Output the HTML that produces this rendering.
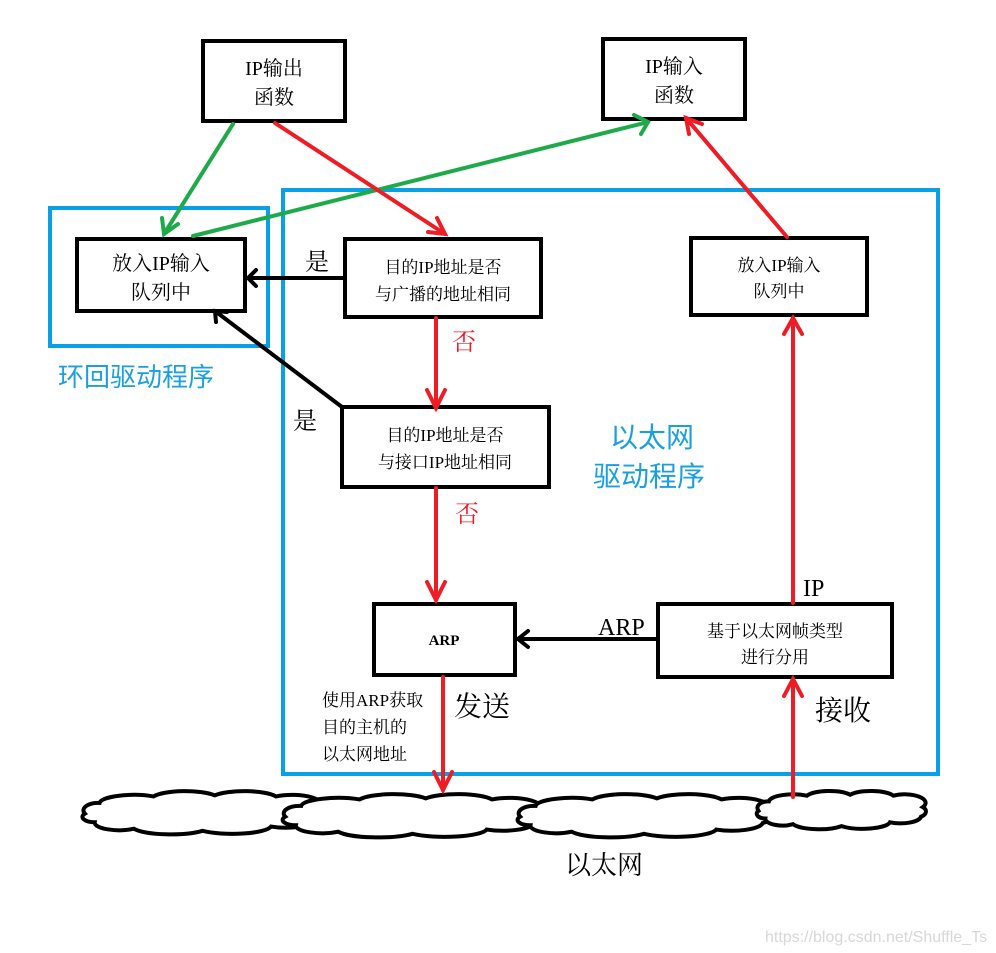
<!DOCTYPE html>
<html><head><meta charset="utf-8"><style>
html,body{margin:0;padding:0;background:#fff;}
svg{display:block;}
.s{font-family:"Liberation Serif","Noto Serif CJK SC",serif;fill:#000;}
.b{font-family:"Liberation Sans","Noto Sans CJK SC",sans-serif;fill:#1aa0e0;}
</style></head><body>
<svg width="996" height="953" viewBox="0 0 996 953" xmlns="http://www.w3.org/2000/svg">
<defs>
<symbol id="cl" viewBox="0 0 100 40" preserveAspectRatio="none" overflow="visible">
<path d="M2,22 A6,7 0 0 1 8,12 A14,8 0 0 1 30,6 A14,8 0 0 1 55,5 A14,8 0 0 1 80,6 A12,9 0 0 1 97,18 A5,6 0 0 1 96,28 A12,8 0 0 1 78,34 A16,8 0 0 1 50,38 A16,8 0 0 1 22,36 A10,7 0 0 1 6,30 A5,5 0 0 1 2,22 Z" fill="#fff" stroke="#000" stroke-width="4" vector-effect="non-scaling-stroke"/>
</symbol>
</defs>

<!-- blue frames -->
<rect x="50" y="208" width="218" height="138" fill="none" stroke="#0aa0e6" stroke-width="4"/>
<rect x="283" y="190" width="655" height="584" fill="none" stroke="#0aa0e6" stroke-width="4"/>

<!-- boxes -->
<g fill="#fff" stroke="#000" stroke-width="4">
<rect x="203" y="41" width="142" height="80"/>
<rect x="603" y="39" width="142" height="80"/>
<rect x="77" y="239" width="168" height="72"/>
<rect x="345" y="239" width="196" height="78"/>
<rect x="342" y="407" width="207" height="80"/>
<rect x="374" y="604" width="141" height="71"/>
<rect x="658" y="604" width="234" height="73"/>
<rect x="691" y="238" width="176" height="77"/>
</g>

<!-- clouds -->
<use href="#cl" x="80" y="790" width="245" height="43"/>
<use href="#cl" x="280" y="793" width="265" height="43"/>
<use href="#cl" x="515" y="793" width="258" height="43"/>
<use href="#cl" x="755" y="790" width="173" height="38"/>

<!-- green -->
<g stroke="#1faa4a" stroke-width="4" fill="none" stroke-linecap="round">
<line x1="233" y1="124" x2="164" y2="234"/>
<polyline points="162,218 164,234 178,224"/>
<line x1="193" y1="236" x2="648" y2="122"/>
<polyline points="634,115 648,122 641,134"/>
</g>

<!-- red -->
<g stroke="#ee1c25" stroke-width="4" fill="none" stroke-linecap="round">
<line x1="275" y1="123" x2="445" y2="234"/>
<polyline points="437,218 445,234 428,232"/>
<line x1="787" y1="237" x2="686" y2="118"/>
<polyline points="689,134 686,118 702,124"/>
<line x1="436" y1="318" x2="436" y2="408"/>
<polyline points="427,390 436,408 445,390"/>
<line x1="436" y1="488" x2="436" y2="600"/>
<polyline points="427,582 436,600 445,582"/>
<line x1="443" y1="677" x2="443" y2="790"/>
<polyline points="434,772 443,790 452,772"/>
<line x1="793" y1="603" x2="793" y2="318"/>
<polyline points="784,334 793,318 802,334"/>
<line x1="793" y1="797" x2="793" y2="679"/>
<polyline points="784,696 793,679 802,696"/>
</g>

<!-- black connectors -->
<g stroke="#000" stroke-width="4" fill="none" stroke-linecap="round">
<line x1="345" y1="278" x2="248" y2="278"/>
<polyline points="256,270 248,278 256,286"/>
<line x1="342" y1="407" x2="215" y2="311"/>
<polyline points="216,322 215,311 227,312"/>
<line x1="658" y1="639" x2="518" y2="639"/>
<polyline points="528,631 518,639 528,647"/>
</g>

<!-- box text -->
<g class="s" font-size="20" text-anchor="middle">
<text x="274" y="75">IP输出</text>
<text x="274" y="104">函数</text>
<text x="674" y="73">IP输入</text>
<text x="674" y="102">函数</text>
<text x="161" y="270">放入IP输入</text>
<text x="161" y="299">队列中</text>
</g>
<g class="s" font-size="17" text-anchor="middle">
<text x="443" y="273">目的IP地址是否</text>
<text x="443" y="300">与广播的地址相同</text>
<text x="445" y="441">目的IP地址是否</text>
<text x="445" y="468">与接口IP地址相同</text>
<text x="779" y="271">放入IP输入</text>
<text x="779" y="297">队列中</text>
<text x="775" y="637">基于以太网帧类型</text>
<text x="775" y="663">进行分用</text>
</g>
<text class="s" x="444" y="645" font-size="15" font-weight="bold" text-anchor="middle">ARP</text>
<g class="s" font-size="17">
<text x="322" y="706">使用ARP获取</text>
<text x="322" y="733">目的主机的</text>
<text x="322" y="760">以太网地址</text>
</g>

<!-- labels -->
<g class="s" font-size="24">
<text x="305" y="270">是</text>
<text x="293" y="429">是</text>
<text x="598" y="635">ARP</text>
<text x="803" y="596">IP</text>
<text x="454" y="716" font-size="28">发送</text>
<text x="815" y="720" font-size="28">接收</text>
<text x="565" y="874" font-size="26">以太网</text>
</g>
<g class="s" font-size="24" style="fill:#ee1c25">
<text x="452" y="350">否</text>
<text x="455" y="522">否</text>
</g>
<text class="b" x="58" y="386" font-size="26">环回驱动程序</text>
<text class="b" x="610" y="447" font-size="28">以太网</text>
<text class="b" x="593" y="486" font-size="28">驱动程序</text>
<text x="765" y="942" font-size="16" font-family="Liberation Sans,sans-serif" fill="#d8d8d8">https://blog.csdn.net/Shuffle_Ts</text>
</svg>
</body></html>
